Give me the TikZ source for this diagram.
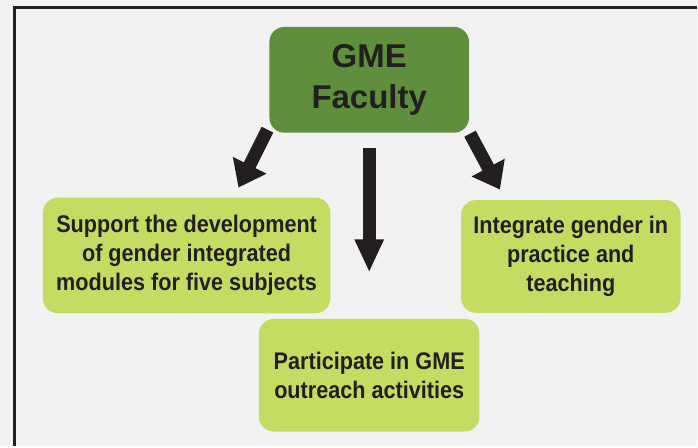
\documentclass[tikz,border=0pt]{standalone}
\usepackage{fontspec}
\setmainfont{Liberation Sans}
\newfontfamily\narrowfont[FakeStretch=0.9]{Liberation Sans}
\usetikzlibrary{arrows.meta}
\definecolor{facgreen}{HTML}{5F8F3D}
\definecolor{boxgreen}{HTML}{C5DC63}
\definecolor{ink}{HTML}{231F20}
\definecolor{paper}{HTML}{F2F2F2}

\begin{document}
\begin{tikzpicture}
[every node/.style={rounded corners=0.3cm,align=center,text=ink,inner sep=0pt},
task/.style={fill=boxgreen,minimum height=2.26cm,
  font=\narrowfont\bfseries\fontsize{13.7}{16.4}\selectfont},
bigarrow/.style={draw=ink,line width=0.26cm,-{Triangle[width=0.72cm,length=0.5cm]}},
]

% background and frame
\fill[paper] (0,0) rectangle (13.96,8.94);
\draw[ink,line width=1.7pt] (0.30,0) -- (0.30,8.78) -- (13.96,8.78);

\node (fac) at (7.40,7.34) [fill=facgreen,minimum width=4cm,minimum height=2.12cm,
  font=\bfseries\fontsize{18.8}{23.8}\selectfont] {GME\\Faculty};

\node (supp) at (3.74,3.82) [task,minimum width=5.76cm,minimum height=2.32cm]
  {Support the development\\of gender integrated\\modules for five subjects};
\node (integ) at (11.44,3.80) [task,minimum width=4.40cm]
  {Integrate gender in\\practice and\\teaching};
\node (partic) at (7.40,1.42) [task,minimum width=4.42cm]
  {Participate in GME\\outreach activities};

% arrows
\coordinate (l1) at (5.36,6.34);
\coordinate (l2) at (4.78,5.18);
\coordinate (m1) at (7.40,5.98);
\coordinate (m2) at (7.40,3.48);
\coordinate (r1) at (9.42,6.26);
\coordinate (r2) at (10.02,5.14);
\draw[bigarrow] (l1) -- (l2);
\draw[bigarrow,-{Triangle[width=0.54cm,length=0.66cm]}] (m1) -- (m2);
\draw[bigarrow] (r1) -- (r2);
\end{tikzpicture}
\end{document}
